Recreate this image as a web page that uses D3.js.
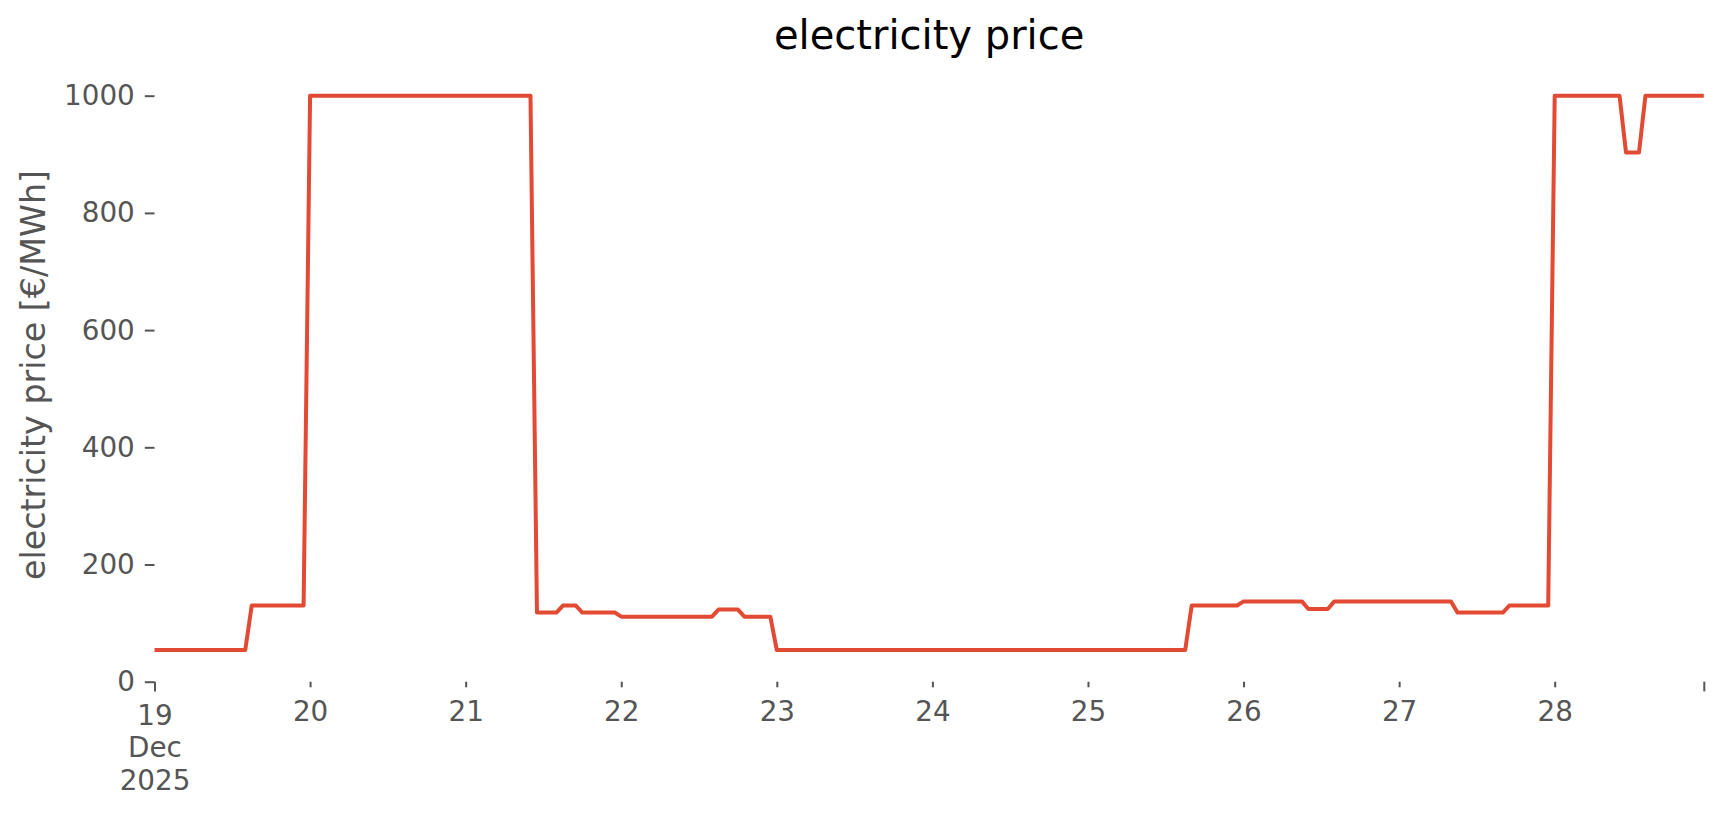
<!DOCTYPE html>
<html>
<head>
<meta charset="utf-8">
<script src="https://cdn.jsdelivr.net/npm/d3@7"></script>
<style>
  body { margin: 0; background: #fff; }
  svg { display: block; font-family: "DejaVu Sans", sans-serif; }
</style>
</head>
<body>
<div id="chart"></div>
<script>
// hourly prices, only the hours where the line changes direction
var times = ["2025-12-19 00:00","2025-12-19 14:00","2025-12-19 15:00","2025-12-19 23:00",
    "2025-12-20 00:00","2025-12-21 10:00","2025-12-21 11:00","2025-12-21 14:00",
    "2025-12-21 15:00","2025-12-21 17:00","2025-12-21 18:00","2025-12-21 23:00",
    "2025-12-22 00:00","2025-12-22 14:00","2025-12-22 15:00","2025-12-22 18:00",
    "2025-12-22 19:00","2025-12-22 23:00","2025-12-23 00:00","2025-12-25 15:00",
    "2025-12-25 16:00","2025-12-25 23:00","2025-12-26 00:00","2025-12-26 09:00",
    "2025-12-26 10:00","2025-12-26 13:00","2025-12-26 14:00","2025-12-27 08:00",
    "2025-12-27 09:00","2025-12-27 16:00","2025-12-27 17:00","2025-12-27 23:00",
    "2025-12-28 00:00","2025-12-28 10:00","2025-12-28 11:00","2025-12-28 13:00",
    "2025-12-28 14:00","2025-12-28 23:00"]
var prices = [54, 54, 130, 130,
    1000, 1000, 118, 118,
    130, 130, 118, 118,
    111, 111, 123, 123,
    111, 111, 54, 54,
    130, 130, 137, 137,
    124, 124, 137, 137,
    118, 118, 130, 130,
    1000, 1000, 903, 903,
    1000, 1000]
var dayTicks = ["2025-12-19","2025-12-20","2025-12-21","2025-12-22","2025-12-23",
    "2025-12-24","2025-12-25","2025-12-26","2025-12-27","2025-12-28"]
var yTicks = [0, 200, 400, 600, 800, 1000]

var W = 1724, H = 815
var plotL = 154.5, plotR = 1703.8, plotT = 95.7, plotB = 681.7
var grey = "#555555", tickFont = "27.8px"

var parseTime = d3.utcParse("%Y-%m-%d %H:%M")
var parseDay = d3.utcParse("%Y-%m-%d")
var data = times.map(function(t, i) { return {date: parseTime(t), value: prices[i]} })
var days = dayTicks.map(parseDay)

var svg = d3.select("#chart").append("svg")
    .attr("width", W)
    .attr("height", H)

var x = d3.scaleUtc()
    .domain(d3.extent(data, function(d) { return d.date }))
    .range([plotL, plotR])
var y = d3.scaleLinear()
    .domain([0, 1000])
    .range([plotB, plotT])

// title
svg.append("text")
    .attr("x", (plotL + plotR) / 2)
    .attr("y", 49.3)
    .attr("text-anchor", "middle")
    .style("font-size", "40px")
    .attr("fill", "#000")
    .text("electricity price")

// y label
svg.append("text")
    .attr("transform", "translate(45,375) rotate(-90)")
    .attr("text-anchor", "middle")
    .style("font-size", "33.3px")
    .attr("fill", grey)
    .text("electricity price [€/MWh]")

// y axis
var yAxis = svg.append("g")
    .attr("transform", "translate(" + plotL + ",0)")
    .call(d3.axisLeft(y).tickValues(yTicks).tickSize(9.7).tickPadding(10)
        .tickFormat(d3.format("d")))
yAxis.select(".domain").remove()
yAxis.selectAll("line").attr("stroke", grey).attr("stroke-width", 2)
yAxis.selectAll("text").attr("fill", grey).style("font-size", tickFont)
    .style("font-family", "DejaVu Sans")

// x axis: days as minor ticks, first day with month/year
var xAxis = svg.append("g")
    .attr("transform", "translate(0," + plotB + ")")
    .call(d3.axisBottom(x).tickValues(days).tickSize(5.6).tickPadding(14)
        .tickFormat(d3.utcFormat("%-d")))
xAxis.select(".domain").remove()
xAxis.selectAll("line").attr("stroke", grey).attr("stroke-width", 2)
xAxis.selectAll("text").attr("fill", grey).style("font-size", tickFont)
    .style("font-family", "DejaVu Sans")

var first = xAxis.selectAll(".tick").filter(function(d, i) { return i == 0 })
first.select("line").attr("y2", 9.7)
var ft = first.select("text").text(null).attr("y", 43.3).attr("dy", null)
ft.append("tspan").attr("x", 0).text("19")
ft.append("tspan").attr("x", 0).attr("dy", 32.3).text("Dec")
ft.append("tspan").attr("x", 0).attr("dy", 32.3).text("2025")

// end tick at the last hour
var endAxis = svg.append("g")
    .attr("transform", "translate(0," + plotB + ")")
    .call(d3.axisBottom(x).tickValues([x.domain()[1]]).tickSize(9.7).tickFormat(""))
endAxis.select(".domain").remove()
endAxis.selectAll("line").attr("stroke", grey).attr("stroke-width", 2)

// price line
svg.append("path")
    .datum(data)
    .attr("fill", "none")
    .attr("stroke", "#E24A33")
    .attr("stroke-width", 4)
    .attr("stroke-linejoin", "round")
    .attr("d", d3.line()
        .x(function(d) { return x(d.date) })
        .y(function(d) { return y(d.value) }))
</script>
</body>
</html>
